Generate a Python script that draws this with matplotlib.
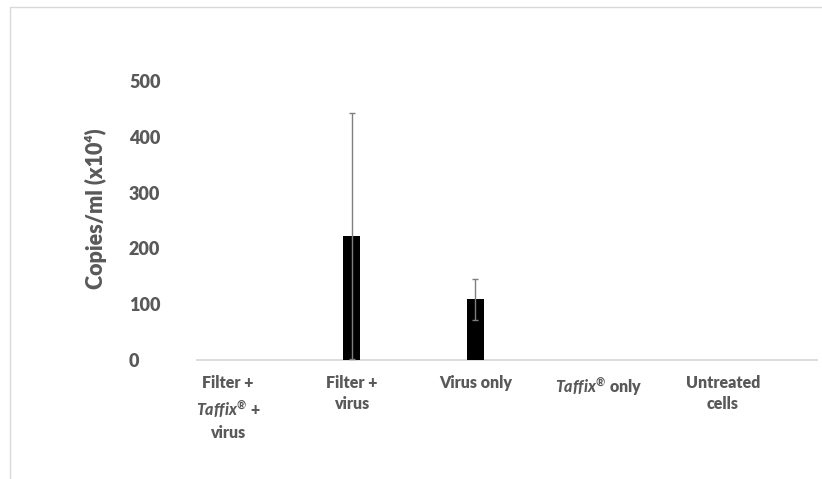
import numpy as np
import matplotlib
matplotlib.use("Agg")
import matplotlib.pyplot as plt
from matplotlib.patches import Rectangle

plt.rcParams['font.family'] = ['Lato', 'DejaVu Sans']
plt.rcParams['mathtext.fontset'] = 'custom'
plt.rcParams['mathtext.it'] = 'Lato:italic:black'
plt.rcParams['mathtext.rm'] = 'Lato:black'

categories = ["Filter +\n$\\mathit{Taffix}^{\\mathrm{®}}$ +\nvirus", "Filter +\nvirus", "Virus only",
              "$\\mathit{Taffix}^{\\mathrm{®}}$ only", "Untreated\ncells"]
valores = [0, 222, 109, 0, 0]
errores = [0, 220, 37, 0, 0]
yticks = [0, 100, 200, 300, 400, 500]

gris = '#595959'
peso = 'heavy'

fig = plt.figure(figsize=(8.22, 4.79), dpi=100)
ax = fig.add_axes([197/822, 1-360/479, 620/822, (360-81)/479])

x = np.arange(len(categories))
ax.bar(x, valores, width=0.14, color='black', zorder=3)
ax.errorbar(x[1:3], valores[1:3], yerr=errores[1:3], fmt='none', ecolor='#7f7f7f',
            elinewidth=1, capsize=2.3, capthick=1, zorder=4)

ax.set_xlim(-0.25, 4.76)
ax.set_ylim(0, 500)
ax.set_yticks(yticks)
ax.set_xticks(x)
ax.set_xticklabels(categories, fontsize=11.5, fontweight=peso, color=gris, linespacing=1.4)
ax.tick_params(axis='x', length=0, pad=11)
ax.tick_params(axis='y', length=0, pad=49, labelsize=13, labelcolor=gris)
for t in ax.get_yticklabels():
    t.set_horizontalalignment('left')
    t.set_fontweight(peso)
for s in ['top', 'right', 'left']:
    ax.spines[s].set_visible(False)
ax.spines['bottom'].set_color('#d9d9d9')
ax.spines['bottom'].set_linewidth(1.3)

fig.text(96/822, 1-209/479, "Copies/ml (x10⁴)", rotation=90, ha='center', va='center',
         fontsize=15.5, fontweight=peso, color=gris)

# marco gris del grafico
fig.patches.append(Rectangle((10/822, -0.1), 1.2, 1-7/479+0.1, transform=fig.transFigure,
                             fill=False, edgecolor='#d9d9d9', linewidth=1))

plt.savefig("out.png", dpi=100)
